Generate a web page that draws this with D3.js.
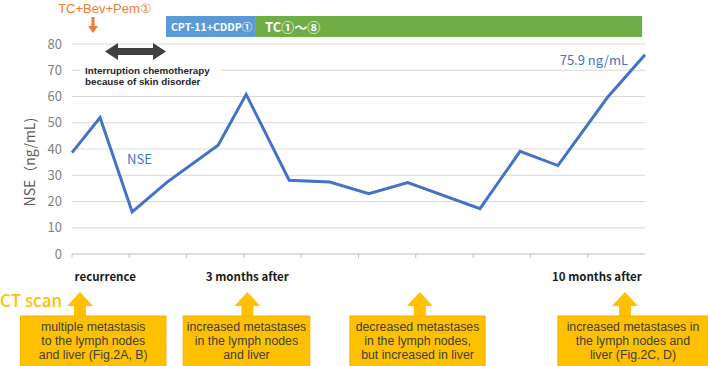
<!DOCTYPE html>
<html>
<head>
<meta charset="utf-8">
<script src="https://cdn.jsdelivr.net/npm/d3@7"></script>
<style>
  body { margin: 0; background: #fff; }
  svg { display: block; font-family: "Noto Sans CJK JP", "Noto Sans", sans-serif; }
</style>
</head>
<body>
<div id="chart"></div>
<script>
// data (x in months after recurrence)
const months = [0, 0.49, 1.05, 1.66, 2.55, 3.04, 3.79, 4.50, 5.18, 5.86, 7.12, 7.82, 8.48, 9.34, 10];
const nse = [38.6, 52.0, 16.0, 27.4, 41.4, 60.8, 28.1, 27.4, 23.0, 27.2, 17.3, 39.1, 33.7, 59.5, 75.9];
const yTicks = [0, 10, 20, 30, 40, 50, 60, 70, 80];
const regimens = [
  { name: "CPT-11+CDDP①", start: 1.64, end: 3.21, color: "#5B9BD5" },
  { name: "TC①～⑧", start: 3.21, end: 9.95, color: "#70AD47" }
];
const timeLabels = [
  { text: "recurrence", at: 0.58 },
  { text: "3 months after", at: 3.06 },
  { text: "10 months after", at: 9.16 }
];
const ctScans = [
  { at: 0.14, box: [-0.9, 1.64], lines: ["multiple metastasis", "to the lymph nodes", "and liver (Fig.2A, B)"] },
  { at: 3.06, box: [1.94, 4.15], lines: ["increased metastases", "in the lymph nodes", "and liver"] },
  { at: 6.07, box: [4.85, 7.21], lines: ["decreased metastases", "in the lymph nodes,", "but increased in liver"] },
  { at: 9.65, box: [8.48, 11.1], lines: ["increased metastases in", "the lymph nodes and", "liver (Fig.2C, D)"] }
];

const W = 708, H = 366;
const svg = d3.select("#chart").append("svg").attr("width", W).attr("height", H);

const x = d3.scaleLinear().domain([0, 10]).range([72, 645]);
const y = d3.scaleLinear().domain([0, 80]).range([254, 44]);

// gridlines
svg.append("g").selectAll("line").data(yTicks.filter(d => d > 0)).join("line")
  .attr("x1", x(0)).attr("x2", x(10))
  .attr("y1", d => y(d)).attr("y2", d => y(d))
  .attr("stroke", "#d9d9d9").attr("stroke-width", 1);

// y tick labels
svg.append("g").selectAll("text").data(yTicks).join("text")
  .attr("x", 62).attr("y", d => y(d)).attr("dy", "0.35em")
  .attr("text-anchor", "end").attr("font-size", 13).attr("fill", "#7f7f7f")
  .text(d => d);

// x axis
svg.append("line").attr("x1", x(0)).attr("x2", x(10)).attr("y1", y(0)).attr("y2", y(0))
  .attr("stroke", "#bfbfbf");
svg.append("g").selectAll("line").data(d3.range(0, 10)).join("line")
  .attr("x1", d => x(d)).attr("x2", d => x(d))
  .attr("y1", y(0)).attr("y2", y(0) + 4)
  .attr("stroke", "#bfbfbf");

// y axis title
svg.append("text")
  .attr("transform", `translate(35,${y(35)}) rotate(-90)`)
  .attr("text-anchor", "middle").attr("font-size", 14).attr("fill", "#595959")
  .text("NSE（ng/mL)");

// regimen bars
regimens.forEach((r, i) => {
  svg.append("rect")
    .attr("x", x(r.start)).attr("y", 16)
    .attr("width", x(r.end) - x(r.start)).attr("height", 21)
    .attr("fill", r.color);
  svg.append("text")
    .attr("x", x(r.start) + (i === 0 ? 5 : 9)).attr("y", 27).attr("dy", "0.35em")
    .attr("font-size", i === 0 ? 10.5 : 13).attr("font-weight", "bold").attr("fill", "#fff")
    .text(r.name);
});

// first regimen label + arrow
svg.append("text").attr("x", 105).attr("y", 12.5)
  .attr("font-family", "Liberation Sans, Arial, sans-serif")
  .attr("text-anchor", "middle").attr("font-size", 13).attr("fill", "#ED7D31")
  .text("TC+Bev+Pem①");
svg.append("path")
  .attr("d", "M91.5,17 L94.5,17 L94.5,26 L98,26 L93,33 L88,26 L91.5,26 Z")
  .attr("fill", "#ED7D31");

// interruption annotation
svg.append("rect").attr("x", 80).attr("y", 63).attr("width", 141).attr("height", 27).attr("fill", "#fff");
svg.append("path")
  .attr("d", "M105,51.5 L118,43 L118,48 L153,48 L153,43 L166,51.5 L153,60 L153,55 L118,55 L118,60 Z")
  .attr("fill", "#404040");
["Interruption chemotherapy", "because of skin disorder"].forEach((t, i) => {
  svg.append("text").attr("x", 85).attr("y", 70.5 + i * 11).attr("dy", "0.35em")
    .attr("font-family", "Liberation Sans, Arial, sans-serif")
    .attr("font-size", 9.8).attr("font-weight", "bold").attr("fill", "#262626")
    .text(t);
});

// NSE line
const line = d3.line().x((d, i) => x(months[i])).y(d => y(d));
svg.append("path").datum(nse)
  .attr("d", line).attr("fill", "none")
  .attr("stroke", "#4472C4").attr("stroke-width", 3).attr("stroke-linejoin", "miter");

svg.append("text").attr("x", 127).attr("y", 159).attr("dy", "0.35em")
  .attr("font-size", 13).attr("fill", "#4472C4").text("NSE");
svg.append("text").attr("x", 628).attr("y", 60).attr("dy", "0.35em")
  .attr("text-anchor", "end").attr("font-size", 13).attr("fill", "#4472C4")
  .text(nse[nse.length - 1] + " ng/mL");

// time labels
svg.append("g").selectAll("text").data(timeLabels).join("text")
  .attr("x", d => x(d.at)).attr("y", 277).attr("dy", "0.35em")
  .attr("text-anchor", "middle").attr("font-size", 11.5).attr("font-weight", "bold").attr("fill", "#1a1a1a")
  .text(d => d.text);

// CT scan
svg.append("text").attr("x", 0).attr("y", 301).attr("dy", "0.35em")
  .attr("font-size", 17).attr("font-weight", 500).attr("fill", "#FFC000")
  .text("CT scan");

const ct = svg.append("g").selectAll("g").data(ctScans).join("g");
ct.append("path")
  .attr("d", d => {
    const c = x(d.at);
    return `M${c},292 L${c + 13},306 L${c + 6},306 L${c + 6},317 L${c - 6},317 L${c - 6},306 L${c - 13},306 Z`;
  })
  .attr("fill", "#FFC000");
ct.append("rect")
  .attr("x", d => x(d.box[0])).attr("y", 316)
  .attr("width", d => x(d.box[1]) - x(d.box[0])).attr("height", 60)
  .attr("fill", "#FFC000").attr("stroke", "#F0B400").attr("stroke-width", 1);
ct.each(function(d) {
  const g = d3.select(this);
  const cx = (x(d.box[0]) + Math.min(x(d.box[1]), W)) / 2;
  d.lines.forEach((t, i) => {
    g.append("text").attr("x", cx).attr("y", 327 + i * 14).attr("dy", "0.35em")
      .attr("font-family", "Liberation Sans, Arial, sans-serif")
      .attr("text-anchor", "middle").attr("font-size", 12.3).attr("fill", "#404040")
      .text(t);
  });
});
</script>
</body>
</html>
